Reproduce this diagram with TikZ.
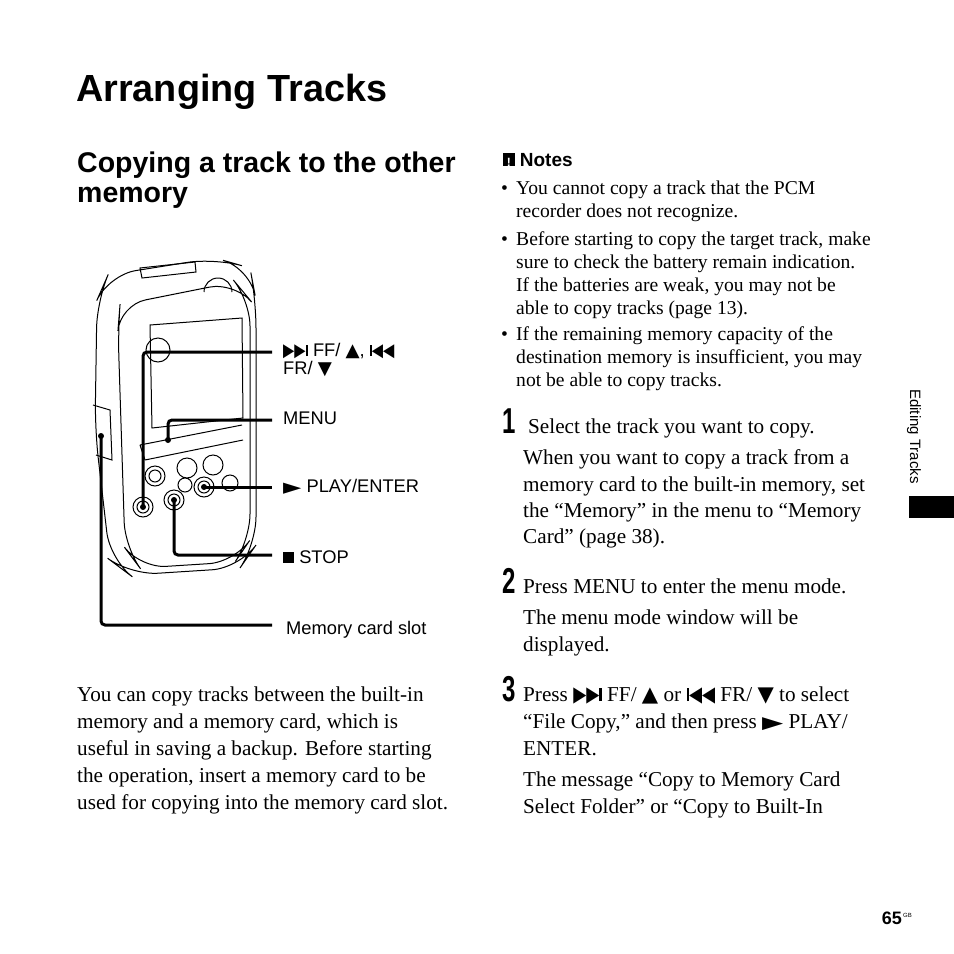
\documentclass[tikz,border=0pt]{standalone}
\usepackage{fontspec}
\setmainfont{Liberation Serif}
\newfontfamily\hsans{Liberation Sans}
\newfontfamily\djv{DejaVu Sans}
\newcommand{\ffs}{{\djv\scalebox{0.8}[1]{▶▶}\rule{0.12em}{0.62em}}}
\newcommand{\frs}{{\djv\rule{0.12em}{0.62em}\scalebox{0.8}[1]{◀◀}}}
\newcommand{\upt}{{\djv ▲}}
\newcommand{\dnt}{{\djv ▼}}
\newcommand{\plt}{{\djv\scalebox{1.3}[0.8]{▶}}}
\newcommand{\stp}{\rule{0.6em}{0.6em}}
\usetikzlibrary{calc}
\begin{document}
\begin{tikzpicture}[x=1pt,y=-1pt,
  tx/.style={anchor=base west,inner sep=0pt,font=\fontsize{21.2}{27}\selectfont},
  nt/.style={anchor=base west,inner sep=0pt,font=\fontsize{19.6}{23}\selectfont},
  lbl/.style={anchor=base west,inner sep=0pt,font=\hsans\fontsize{18.3}{18}\selectfont},
  num/.style={anchor=base west,inner sep=0pt,font=\hsans\bfseries\fontsize{30}{30}\selectfont},
  lead/.style={line width=3pt},
  dev/.style={line width=1pt},
  btn/.style={line width=1pt,draw,fill=white}]
\useasboundingbox (0,0) rectangle (954,954);
% headings
\node[anchor=base west,inner sep=0pt,font=\hsans\bfseries\fontsize{37.8}{38}\selectfont] (title) at (76,101) {Arranging Tracks};
\node[anchor=base west,inner sep=0pt,font=\hsans\bfseries\fontsize{28.5}{30}\selectfont] (sub1) at (77,172) {Copying a track to the other};
\node[anchor=base west,inner sep=0pt,font=\hsans\bfseries\fontsize{28.5}{30}\selectfont] (sub2) at (77,202) {memory};
% device
\draw[dev,rounded corners=28] (97,300) -- (108,275) -- (215,258) -- (250,268) -- (256,300) -- (256,545) -- (240,568) -- (130,575) -- (110,560) -- (95,430) -- cycle;
\draw[dev,rounded corners=26] (120,305) -- (235,282) -- (250,300) -- (250,540) -- (235,562) -- (140,568) -- (125,548) -- (118,330) -- cycle;
\draw[dev] (140,268) -- (195,262) -- (196,272) -- (142,278) -- cycle;
\draw[dev] (150,325) -- (242,318) -- (243,418) -- (152,428) -- cycle;
\draw[dev] (140,445) -- (242,425) (140,445) -- (145,460) (145,460) -- (243,440);
\draw[dev] (93,405) -- (110,410) -- (112,460) -- (96,455);
\draw[dev] (158,350) circle (12);
\draw[dev] (232,292) arc (0:-180:14);
\draw[dev] (187,468) circle (10) (213,465) circle (10) (185,485) circle (7) (230,483) circle (8);
\draw[btn] (143,507) circle (10); \draw[dev] (143,507) circle (6);
\draw[btn] (155,476) circle (10); \draw[dev] (155,476) circle (6);
\draw[btn] (174,500) circle (10); \draw[dev] (174,500) circle (6);
\draw[btn] (204,487) circle (10); \draw[dev] (204,487) circle (6);
% leader lines
\coordinate (b1) at (143,507); \coordinate (b2) at (168,440); \coordinate (b3) at (204,487);
\coordinate (b4) at (174,500); \coordinate (b5) at (101,436);
\fill (b1) circle (3) (b2) circle (3) (b3) circle (3) (b4) circle (3) (b5) circle (3);
\node[lbl] (l1) at (283,356) {\ffs\ FF/ \upt, \frs};
\node[lbl] (l1b) at (283,374) {FR/ \dnt};
\node[lbl] (l2) at (283,424) {MENU};
\node[lbl] (l3) at (283,492) {\plt\ PLAY/ENTER};
\node[lbl] (l4) at (283,563) {\stp\ STOP};
\node[lbl] (l5) at (286,634) {Memory card slot};
\draw[lead,rounded corners=4] (b1) -- (143,352) -- (272,352);
\draw[lead,rounded corners=4] (b2) -- (168,420) -- (272,420);
\draw[lead] (b3) -- (272,487);
\draw[lead,rounded corners=4] (b4) -- (174,555) -- (272,555);
\draw[lead,rounded corners=4] (b5) -- (101,625) -- (272,625);
% left text
\node[tx] (p1) at (77,701) {You can copy tracks between the built-in};
\node[tx] (p2) at (77,728) {memory and a memory card, which is};
\node[tx] (p3) at (77,755) {useful in saving a backup. Before starting};
\node[tx] (p4) at (77,782) {the operation, insert a memory card to be};
\node[tx] (p5) at (77,809) {used for copying into the memory card slot.};
% notes
\node[anchor=base west,inner sep=0pt,font=\hsans\bfseries\fontsize{19}{19}\selectfont] (nh) at (503,166) {\rule{0.6em}{0.7em}\hspace{-0.6em}\makebox[0.6em]{\color{white}\fontsize{12}{12}\selectfont !}\ Notes};
\foreach \y/\t in {194/You cannot copy a track that the PCM, 217/recorder does not recognize., 245/{Before starting to copy the target track, make}, 268/sure to check the battery remain indication., 291/{If the batteries are weak, you may not be}, 314/able to copy tracks (page 13)., 340/If the remaining memory capacity of the, 363/{destination memory is insufficient, you may}, 386/not be able to copy tracks.}
  \node[nt] at (516,\y) {\t};
\foreach \y in {194,245,340} \node[nt] at (501,\y) {•};
% steps
\node[num] (n1) at (502,433) {\scalebox{0.8}[1.2]{1}};
\node[tx] at (528,433) {Select the track you want to copy.};
\node[tx] at (523,464) {When you want to copy a track from a};
\node[tx] at (523,491) {memory card to the built-in memory, set};
\node[tx] at (523,517) {the “Memory” in the menu to “Memory};
\node[tx] at (523,543) {Card” (page 38).};
\node[num] (n2) at (502,593) {\scalebox{0.8}[1.2]{2}};
\node[tx] at (523,593) {Press MENU to enter the menu mode.};
\node[tx] at (523,624) {The menu mode window will be};
\node[tx] at (523,651) {displayed.};
\node[num] (n3) at (502,701) {\scalebox{0.8}[1.2]{3}};
\node[tx] at (523,701) {Press \ffs\ FF/ \upt\ or \frs\ FR/ \dnt\ to select};
\node[tx] at (523,728) {“File Copy,” and then press \plt\ PLAY/};
\node[tx] at (523,755) {ENTER.};
\node[tx] at (523,786) {The message “Copy to Memory Card};
\node[tx] at (523,813) {Select Folder” or “Copy to Built-In};
% side
\node[rotate=-90,anchor=base west,inner sep=0pt,font=\hsans\fontsize{15}{15}\selectfont] (side) at (910,389) {Editing Tracks};
\fill (909,496) rectangle (954,518);
\node[anchor=base east,inner sep=0pt,font=\hsans\bfseries\fontsize{18}{18}\selectfont] (pg) at (902,924) {65};
\node[anchor=base west,inner sep=0pt,font=\hsans\fontsize{6}{6}\selectfont] at (903,917) {GB};
\end{tikzpicture}
\end{document}
